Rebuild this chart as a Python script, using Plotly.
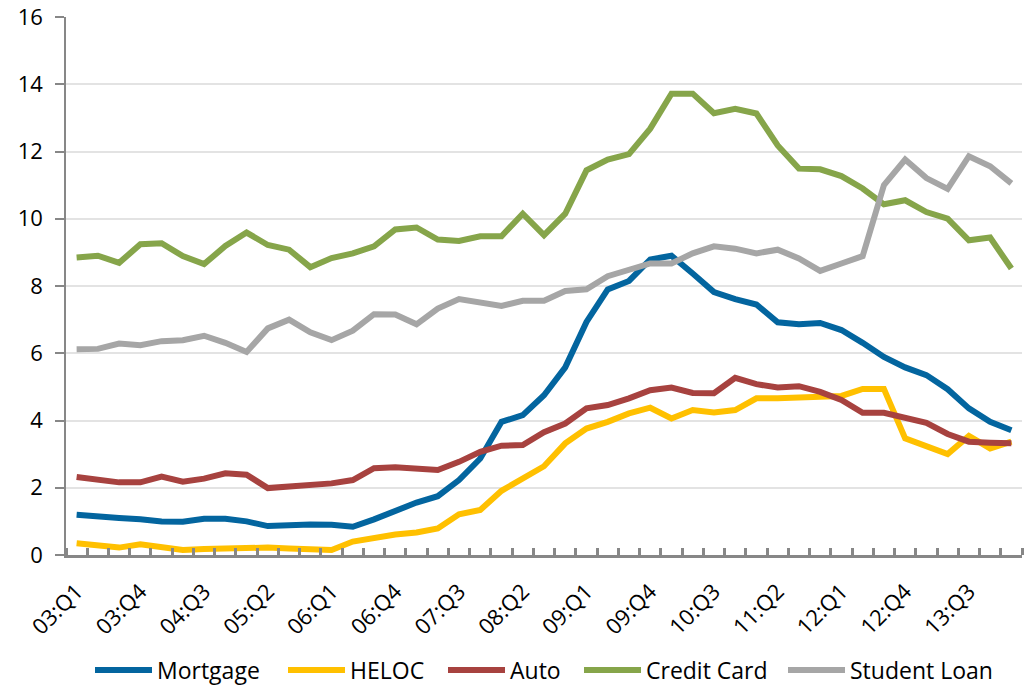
import plotly.graph_objects as go

quarters = []
for yr in range(3, 15):
    for q in range(1, 5):
        quarters.append(f"{yr:02d}:Q{q}")
quarters = quarters[:45]  # 03:Q1 .. 14:Q1

mortgage = [1.20, 1.13, 1.10, 1.06, 1.00, 0.99, 1.08, 1.08, 1.00, 0.86,
            0.89, 0.91, 0.90, 0.84, 1.06, 1.32, 1.56, 1.75, 2.23, 2.87,
            3.96, 4.16, 4.75, 5.58, 6.93, 7.90, 8.15, 8.79, 8.90, 8.37,
            7.82, 7.61, 7.45, 6.92, 6.86, 6.90, 6.69, 6.31, 5.89, 5.58,
            5.35, 4.93, 4.36, 3.96, 3.71]
heloc = [0.35, 0.28, 0.22, 0.32, 0.22, 0.15, 0.18, 0.20, 0.23, 0.22,
         0.19, 0.15, 0.15, 0.40, 0.51, 0.61, 0.67, 0.79, 1.21, 1.34,
         1.91, 2.25, 2.64, 3.32, 3.76, 3.96, 4.21, 4.38, 4.06, 4.31,
         4.24, 4.31, 4.66, 4.66, 4.69, 4.71, 4.73, 4.94, 4.94, 3.47,
         3.22, 3.00, 3.54, 3.17, 3.37]
auto = [2.32, 2.25, 2.16, 2.16, 2.33, 2.18, 2.27, 2.43, 2.39, 1.99,
        2.03, 2.08, 2.13, 2.23, 2.58, 2.61, 2.58, 2.53, 2.77, 3.07,
        3.25, 3.27, 3.65, 3.91, 4.36, 4.46, 4.66, 4.90, 4.98, 4.82,
        4.81, 5.27, 5.08, 4.98, 5.02, 4.85, 4.61, 4.23, 4.23, 4.06,
        3.93, 3.60, 3.37, 3.34, 3.32]
credit_card = [8.85, 8.90, 8.69, 9.24, 9.27, 8.89, 8.65, 9.19, 9.59, 9.22,
               9.08, 8.56, 8.83, 8.97, 9.18, 9.68, 9.74, 9.38, 9.34, 9.48,
               9.48, 10.15, 9.51, 10.15, 11.44, 11.76, 11.92, 12.68, 13.72, 13.72,
               13.14, 13.27, 13.13, 12.18, 11.49, 11.47, 11.27, 10.90, 10.43, 10.55,
               10.20, 10.00, 9.36, 9.44, 8.52]
student_loan = [6.12, 6.13, 6.29, 6.24, 6.36, 6.39, 6.52, 6.31, 6.04, 6.74,
                7.00, 6.62, 6.39, 6.67, 7.16, 7.15, 6.86, 7.33, 7.61, 7.53,
                7.41, 7.56, 7.56, 7.85, 7.90, 8.29, 8.49, 8.67, 8.67, 8.97,
                9.18, 9.11, 8.97, 9.08, 8.82, 8.45, 8.67, 8.89, 11.00, 11.76,
                11.21, 10.89, 11.86, 11.56, 11.05]

series_names = ["Mortgage", "HELOC", "Auto", "Credit Card", "Student Loan"]
series_values = [mortgage, heloc, auto, credit_card, student_loan]
series_colors = ["#03659F", "#FFC000", "#A7423F", "#86A54A", "#A6A6A6"]

# legend entry left positions (pixels) — layout only
legend_left_px = [97, 290, 450, 586, 790]

W, H = 1032, 688
ML, MR, MT, MB = 66, 10, 17, 133
plot_w = W - ML - MR
plot_h = H - MT - MB

xs = list(range(len(quarters)))
tick_idx = xs[::3]

font = "Open Sans, Noto Sans, sans-serif"
fig = go.Figure()
legend_layout = {}
for k, (name, vals, color) in enumerate(zip(series_names, series_values, series_colors)):
    lg = "legend" if k == 0 else f"legend{k + 1}"
    fig.add_trace(go.Scatter(x=xs, y=vals, name=name, mode="lines",
                             line=dict(color=color, width=6), legend=lg))
    legend_layout[lg] = dict(
        orientation="h", x=(legend_left_px[k] - ML - 7) / plot_w, xanchor="left",
        y=-(670 - (MT + plot_h)) / plot_h, yanchor="middle",
        font=dict(size=23, family=font), itemwidth=57,
        bgcolor="rgba(0,0,0,0)",
    )

fig.update_layout(
    width=W, height=H,
    margin=dict(l=ML, r=MR, t=MT, b=MB, autoexpand=False),
    paper_bgcolor="white", plot_bgcolor="white",
    font=dict(family=font, size=22, color="#000000"),
    showlegend=True,
    **legend_layout,
)
fig.update_xaxes(
    range=[-0.5, len(quarters) - 0.5], automargin=False,
    tickmode="array", tickvals=tick_idx,
    ticktext=[quarters[i] for i in tick_idx],
    tickangle=-45, ticks="", showgrid=False, zeroline=False,
    showline=True, linecolor="#878787", linewidth=3,
    minor=dict(ticks="inside", tick0=-0.5, dtick=1, ticklen=7,
               tickwidth=3, tickcolor="#878787", showgrid=False),
    tickfont=dict(size=22), ticklabelstandoff=12,
)
fig.update_yaxes(
    range=[0, 16], dtick=2, showgrid=True, gridcolor="#E3E3E3", gridwidth=1.5,
    zeroline=False, showline=True, linecolor="#878787", linewidth=1.5,
    ticks="outside", ticklen=9, tickcolor="#878787", tickwidth=1.5,
    tickfont=dict(size=22), automargin=False, ticklabelstandoff=8,
)

fig.write_html("out.html", config={"displayModeBar": False},
               post_script="document.body.style.margin='0';document.body.style.overflow='hidden';")
